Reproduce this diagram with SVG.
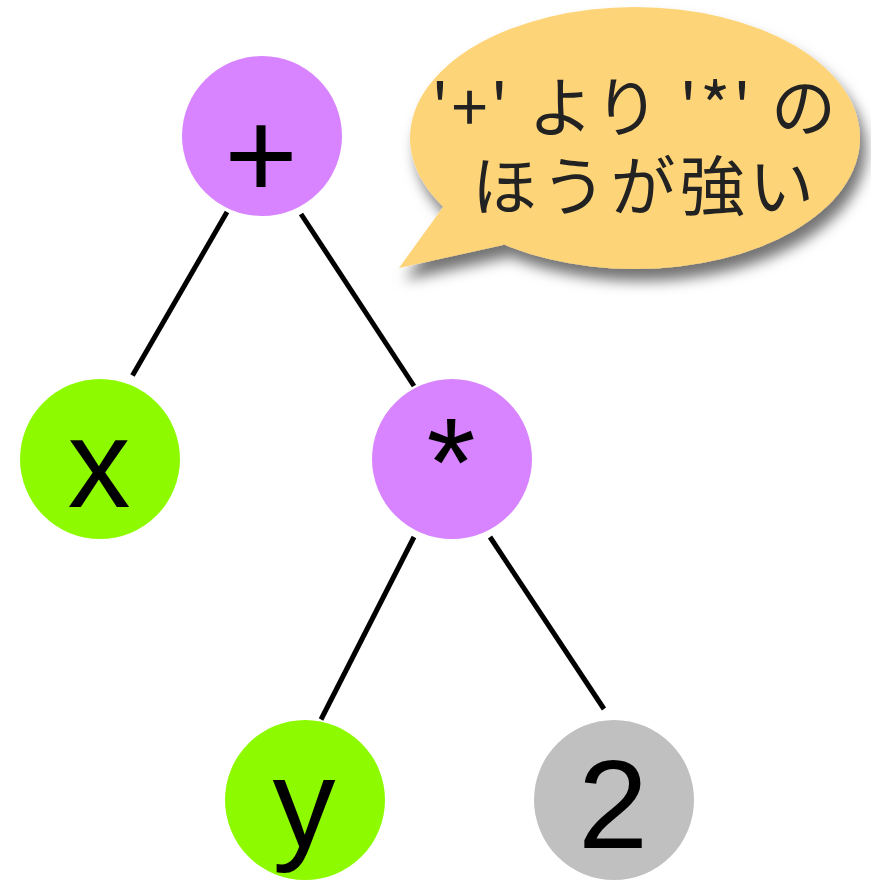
<svg xmlns="http://www.w3.org/2000/svg" width="871" height="880" viewBox="0 0 871 880">
  <defs>
    <filter id="bubbleShadow" x="-10%" y="-10%" width="130%" height="140%">
      <feDropShadow dx="6" dy="12" stdDeviation="7" flood-color="#000" flood-opacity="0.55"/>
    </filter>
  </defs>
  <style>
    .edge { stroke: #000; stroke-width: 5; fill: none; }
    .op { fill: #D883FF; }
    .var { fill: #8EFA00; }
    .num { fill: #C0C0C0; }
    .lbl { font-family: "Liberation Sans", Arial, sans-serif; font-size: 126px; fill: #000; text-anchor: middle; }
    .note { font-family: "Noto Sans CJK JP", "Noto Sans", sans-serif; font-size: 65px; fill: #222; text-anchor: middle; }
  </style>

  <!-- tree edges -->
  <g id="connectors">
    <line class="edge" x1="227" y1="212" x2="132.5" y2="375.5"/>
    <line class="edge" x1="301" y1="214" x2="414" y2="386"/>
    <line class="edge" x1="414" y1="537" x2="321" y2="719.5"/>
    <line class="edge" x1="490" y1="537" x2="604" y2="709"/>
  </g>

  <g id="node-plus">
    <circle class="op" cx="262" cy="136" r="80"/>
    <text class="lbl" x="261" y="198">+</text>
  </g>

  <g id="node-x">
    <circle class="var" cx="100" cy="459" r="80"/>
    <text class="lbl" x="99" y="507">x</text>
  </g>

  <g id="node-times">
    <circle class="op" cx="452" cy="459" r="80"/>
    <text class="lbl" x="451" y="506">*</text>
  </g>

  <g id="node-y">
    <circle class="var" cx="305" cy="800" r="80"/>
    <text class="lbl" x="304" y="847">y</text>
  </g>

  <g id="node-two">
    <circle class="num" cx="614" cy="800" r="80"/>
    <text class="lbl" x="613" y="848">2</text>
  </g>

  <!-- speech bubble -->
  <g id="callout">
    <g filter="url(#bubbleShadow)" fill="#FED479">
      <ellipse cx="635" cy="138" rx="225" ry="131"/>
      <polygon points="443,207 399,268 503,245 540,200"/>
    </g>
    <text class="note">
      <tspan x="642" y="131" textLength="405" lengthAdjust="spacing">'+' より '*' の</tspan>
      <tspan x="643" y="210" textLength="342" lengthAdjust="spacing">ほうが強い</tspan>
    </text>
  </g>
</svg>
